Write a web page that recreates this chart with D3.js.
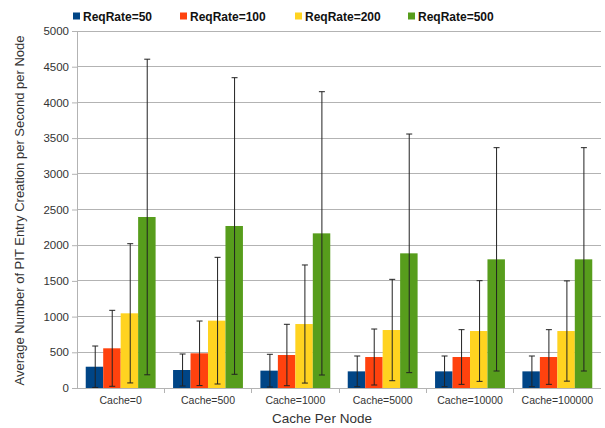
<!DOCTYPE html>
<html>
<head>
<meta charset="utf-8">
<script src="https://cdn.jsdelivr.net/npm/d3@7"></script>
<style>
  html, body { margin: 0; padding: 0; background: #fff; }
  svg { display: block; font-family: "Liberation Sans", Arial, sans-serif; }
</style>
</head>
<body>
<svg id="chart" width="605" height="428"></svg>
<script>
const categories = ["Cache=0", "Cache=500", "Cache=1000", "Cache=5000", "Cache=10000", "Cache=100000"];
const seriesNames = ["ReqRate=50", "ReqRate=100", "ReqRate=200", "ReqRate=500"];
const seriesColors = ["#004586", "#ff420e", "#ffd320", "#579d1c"];
const rate50  = [298, 252, 243, 233, 233, 233];
const rate100 = [556, 486, 462, 434, 434, 434];
const rate200 = [1046, 943, 896, 812, 798, 798];
const rate500 = [2395, 2269, 2166, 1886, 1802, 1802];
const err50   = [290, 224, 229, 215, 215, 215];
const err100  = [532, 452, 430, 392, 383, 383];
const err200  = [975, 887, 827, 710, 705, 702];
const err500  = [2210, 2077, 1984, 1671, 1564, 1564];
const yTicks = [0, 500, 1000, 1500, 2000, 2500, 3000, 3500, 4000, 4500, 5000];

const values = [rate50, rate100, rate200, rate500];
const errors = [err50, err100, err200, err500];

const svg = d3.select("#chart");
const margin = { left: 77, right: 4, top: 31, bottom: 40 };
const W = 605, H = 428;
const x0 = d3.scaleBand().domain(categories).range([margin.left, W - margin.right]).paddingInner(0.2).paddingOuter(0.1);
const x1 = d3.scaleBand().domain(seriesNames).range([0, x0.bandwidth()]).padding(0);
const y = d3.scaleLinear().domain([0, 5000]).range([H - margin.bottom, margin.top]);

const step = x0.step();
const plotLeft = margin.left, plotRight = W - margin.right;

// gridlines
svg.append("g").selectAll("line").data(yTicks.filter(d => d > 0)).join("line")
  .attr("x1", plotLeft).attr("x2", plotRight)
  .attr("y1", d => y(d)).attr("y2", d => y(d))
  .attr("stroke", "#b3b3b3").attr("stroke-width", 1).attr("shape-rendering", "crispEdges");

// y axis
const yAxis = d3.axisLeft(y).tickValues(yTicks).tickSize(5).tickPadding(3).tickFormat(d3.format("d"));
const gy = svg.append("g").attr("transform", `translate(${plotLeft},0)`).call(yAxis);
gy.select(".domain").attr("stroke", "#b3b3b3");
gy.selectAll(".tick line").attr("stroke", "#b3b3b3");
gy.selectAll("text").attr("fill", "#333").style("font-size", "11.5px").style("font-family", "Liberation Sans, Arial, sans-serif");

// x axis
const xAxis = d3.axisBottom(x0).tickSize(0).tickPadding(9);
const gx = svg.append("g").attr("transform", `translate(0,${y(0)})`).call(xAxis);
gx.select(".domain").remove();
gx.selectAll("text").attr("fill", "#333").style("font-size", "10.5px").style("font-family", "Liberation Sans, Arial, sans-serif");
svg.append("line").attr("x1", plotLeft).attr("x2", plotRight).attr("y1", y(0)).attr("y2", y(0))
  .attr("stroke", "#b3b3b3").attr("shape-rendering", "crispEdges");
const bounds = d3.range(1, categories.length).map(i => x0(categories[i]) - (step - x0.bandwidth()) / 2);
svg.append("g").selectAll("line").data(bounds).join("line")
  .attr("x1", d => d).attr("x2", d => d).attr("y1", y(0)).attr("y2", y(0) + 5)
  .attr("stroke", "#b3b3b3").attr("shape-rendering", "crispEdges");

// bars
const groups = svg.append("g").selectAll("g").data(categories).join("g")
  .attr("transform", c => `translate(${x0(c)},0)`);
groups.each(function(c, ci) {
  const g = d3.select(this);
  seriesNames.forEach((s, si) => {
    const v = values[si][ci];
    g.append("rect")
      .attr("x", x1(s)).attr("width", x1.bandwidth())
      .attr("y", y(v)).attr("height", y(0) - y(v))
      .attr("fill", seriesColors[si]);
  });
});
// error bars
groups.each(function(c, ci) {
  const g = d3.select(this);
  seriesNames.forEach((s, si) => {
    const v = values[si][ci], e = errors[si][ci];
    const cx = Math.round(x1(s) + x1.bandwidth() / 2) + 0.5;
    const top = y(v + e), bot = y(Math.max(0, v - e));
    g.append("line").attr("x1", cx).attr("x2", cx).attr("y1", top).attr("y2", bot)
      .attr("stroke", "#222").attr("stroke-width", 1);
    [top, bot].forEach(yy => {
      g.append("line").attr("x1", cx - 3).attr("x2", cx + 3).attr("y1", yy).attr("y2", yy)
        .attr("stroke", "#222").attr("stroke-width", 1);
    });
  });
});

// axis titles
svg.append("text").attr("x", 322).attr("y", 423)
  .attr("text-anchor", "middle").attr("fill", "#333").style("font-size", "13.5px")
  .text("Cache Per Node");
svg.append("text").attr("transform", `translate(24,${(y(0) + y(5000)) / 2 + 1}) rotate(-90)`)
  .attr("text-anchor", "middle").attr("fill", "#333").style("font-size", "13px")
  .text("Average Number of PIT Entry Creation per Second per Node");

// legend
const legendX = [73, 180, 295, 408];
const lg = svg.append("g").selectAll("g").data(seriesNames).join("g")
  .attr("transform", (d, i) => `translate(${legendX[i]},16)`);
lg.append("rect").attr("x", 0).attr("y", -3.5).attr("width", 7).attr("height", 7)
  .attr("fill", (d, i) => seriesColors[i]);
lg.append("text").attr("x", 10).attr("y", 4.5).attr("fill", "#111")
  .style("font-size", "12px").style("font-weight", "bold").text(d => d);
</script>
</body>
</html>
